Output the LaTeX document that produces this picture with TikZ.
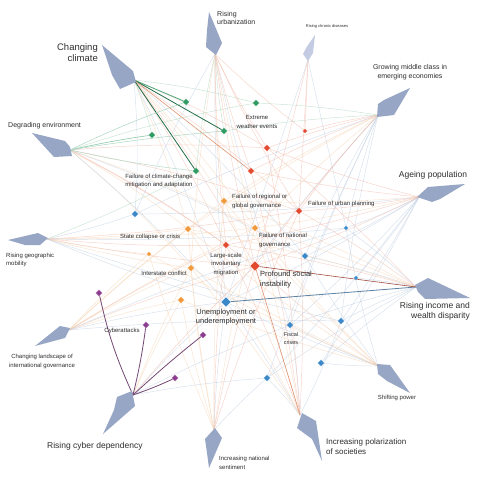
\documentclass[tikz,border=0pt]{standalone}
\usepackage{fontspec}
\setmainfont{Liberation Sans}
\usetikzlibrary{shapes.geometric}
\pgfdeclarelayer{back}
\pgfdeclarelayer{bg}
\pgfsetlayers{back,bg,main}
\definecolor{gC}{HTML}{2F9B62}
\definecolor{rC}{HTML}{E2492F}
\definecolor{oC}{HTML}{F19A3C}
\definecolor{bC}{HTML}{3B88C9}
\definecolor{pC}{HTML}{8C3D8F}
\definecolor{ge}{HTML}{A8D5B8}
\definecolor{re}{HTML}{F2B7A6}
\definecolor{oe}{HTML}{F6D2AE}
\definecolor{be}{HTML}{BDCDE2}
\definecolor{pe}{HTML}{D2B4D4}
\definecolor{trendC}{HTML}{98A6C6}
\definecolor{trendL}{HTML}{C3CCE2}
\definecolor{labC}{HTML}{2E2E2E}
\tikzset{
  rk/.style={diamond, inner sep=0pt, minimum size=7pt, draw=white, line width=0.2pt},
  rkS/.style={rk, minimum size=5pt},
  rkL/.style={rk, minimum size=10pt},
  trendshape/.style={fill=trendC},
  lab/.style={text=labC, inner sep=0pt},
  fe/.style={line width=0.45pt, opacity=0.6},
  se/.style={line width=0.8pt},
}
\begin{document}
\begin{tikzpicture}[x=1pt,y=-1pt]
\useasboundingbox (0,0) rectangle (480,492);
\begin{pgfonlayer}{back}
\fill[white] (0,0) rectangle (480,492);
\end{pgfonlayer}

% ---- trend shapes ----
\fill[trendshape] (102,45) -- (133,71) -- (136,82) -- (120,89) -- (112,75) -- cycle;
\fill[trendshape] (32,133) -- (65,141) -- (70,147) -- (72,156) -- (54,157) -- cycle;
\fill[trendshape] (209,12) -- (222,43) -- (216,55) -- (206,47) -- (207,30) -- cycle;
\fill[trendL] (315,35) -- (313,53) -- (308,61) -- (303,54) -- (306,48) -- cycle;
\fill[trendshape] (410,88) -- (384,100) -- (378,104) -- (377,117) -- (394,115) -- cycle;
\fill[trendshape] (465,184) -- (428,187) -- (417,197) -- (432,202) -- (440,199) -- cycle;
\fill[trendshape] (415,285) -- (428,278) -- (470,298) -- (425,299) -- (418,292) -- cycle;
\fill[trendshape] (377,364) -- (390,365) -- (410,393) -- (387,381) -- (378,374) -- cycle;
\fill[trendshape] (302,413) -- (316,421) -- (322,461) -- (312,439) -- (297,428) -- cycle;
\fill[trendshape] (215,428) -- (222,438) -- (209,468) -- (207,453) -- (205,439) -- cycle;
\fill[trendshape] (132,391) -- (135,406) -- (103,434) -- (114,410) -- (117,397) -- cycle;
\fill[trendshape] (60,326) -- (70,328) -- (65,338) -- (35,346) -- (50,334) -- cycle;
\fill[trendshape] (8,240) -- (38,233) -- (48,238) -- (40,245) -- (25,245) -- cycle;

% ---- trend anchors ----
\coordinate (CC) at (134,80);
\coordinate (DE) at (70,150);
\coordinate (RU) at (215,54);
\coordinate (RCD) at (308,60);
\coordinate (GM) at (378,115);
\coordinate (AP) at (419,197);
\coordinate (RI) at (416,287);
\coordinate (SP) at (378,366);
\coordinate (IP) at (300,415);
\coordinate (IN) at (214,430);
\coordinate (CD) at (133,395);
\coordinate (CL) at (69,330);
\coordinate (GMo) at (47,239);

% ---- risks ----
\node[rk, fill=gC] (G1) at (186,102) {};
\node[rk, fill=gC] (G2) at (152,135) {};
\node[rk, fill=gC] (G3) at (224,131) {};
\node[rk, fill=gC] (G4) at (196,171) {};
\node[rk, fill=gC] (G5) at (256,103) {};
\node[rkS, fill=rC] (R1) at (305,131) {};
\node[rk, fill=rC] (R2) at (267,148) {};
\node[rk, fill=rC] (R3) at (251,171) {};
\node[rk, fill=rC] (R4) at (299,211) {};
\node[rk, fill=rC] (R5) at (226,245) {};
\node[rkL, fill=rC] (R6) at (255,266) {};
\node[rk, fill=oC] (O1) at (224,201) {};
\node[rk, fill=oC] (O2) at (255,228) {};
\node[rk, fill=oC] (O3) at (188,229) {};
\node[rkS, fill=oC] (O4) at (149,254) {};
\node[rk, fill=oC] (O5) at (191,268) {};
\node[rk, fill=oC] (O6) at (181,300) {};
\node[rk, fill=bC] (B1) at (135,214) {};
\node[rkS, fill=bC] (B2) at (346,228) {};
\node[rk, fill=bC] (B4) at (305,256) {};
\node[rkS, fill=bC] (B5) at (356,278) {};
\node[rkL, fill=bC] (B6) at (226,302) {};
\node[rk, fill=bC] (B7) at (290,325) {};
\node[rk, fill=bC] (B8) at (341,321) {};
\node[rk, fill=bC] (B10) at (321,363) {};
\node[rk, fill=bC] (B11) at (267,378) {};
\node[rk, fill=pC] (P1) at (99,293) {};
\node[rk, fill=pC] (P2) at (146,325) {};
\node[rk, fill=pC] (P3) at (203,335) {};
\node[rk, fill=pC] (P4) at (175,378) {};

% ---- connectors ----
\begin{pgfonlayer}{bg}
\foreach \t/\c in {G2/ge,G5/ge,R2/re,R5/re,O1/oe,O3/oe,R6/re,B1/be,R4/re,B6/be,O2/oe,B4/be}
  \draw[fe,\c] (CC) to[bend left=4] (\t.center);
\foreach \t/\c in {R5/re,R6/re,O3/oe,O5/oe,R2/re,B6/be,O2/oe,G5/ge,R4/re,B4/be}
  \draw[fe,\c] (DE) to[bend left=4] (\t.center);
\foreach \t/\c in {R4/re,R2/re,R1/re,G3/ge,B1/be,R6/re,R5/re,B7/be,O2/oe,R3/re,O1/oe,G4/ge,B6/be,O5/oe}
  \draw[fe,\c] (RU) to[bend right=3] (\t.center);
\foreach \t/\c in {R1/re,R4/re,R6/re,B2/be,B6/be}
  \draw[fe,\c] (RCD) to (\t.center);
\foreach \t/\c in {G5/ge,R1/re,R2/re,R3/re,R4/re,B2/be,B4/be,B6/be,B7/be,O1/oe,R6/re,B11/be,G3/ge,B1/be,O3/oe,O2/oe,B8/be}
  \draw[fe,\c] (GM) to[bend right=3] (\t.center);
\foreach \t/\c in {B2/be,B4/be,B5/be,B7/be,B8/be,B6/be,R4/re,R6/re,R2/re,B11/be,B10/be,R3/re,O2/oe,B1/be,O1/oe,R5/re}
  \draw[fe,\c] (AP) to[bend left=3] (\t.center);
\foreach \t/\c in {B5/be,B4/be,B7/be,B8/be,B10/be,R5/re,O2/oe,R4/re,B2/be,O1/oe,B11/be,O3/oe,R2/re}
  \draw[fe,\c] (RI) to[bend right=3] (\t.center);
\foreach \t/\c in {O1/oe,O2/oe,O5/oe,O3/oe,B7/be,B10/be,R6/re,B6/be,O6/oe,B4/be,B2/be,O4/oe}
  \draw[fe,\c] (SP) to[bend left=3] (\t.center);
\foreach \t/\c in {R5/re,O2/oe,O1/oe,B6/be,B7/be,B11/be,R4/re,O3/oe,R3/re,O5/oe,B8/be,R2/re}
  \draw[fe,\c] (IP) to[bend right=3] (\t.center);
\foreach \t/\c in {O5/oe,O6/oe,O3/oe,O2/oe,O1/oe,R5/re,R6/re,B6/be,B11/be,O4/oe,R4/re}
  \draw[fe,\c] (IN) to[bend left=3] (\t.center);
\foreach \t/\c in {B6/be,B7/be,O6/oe,R6/re,B11/be,O5/oe}
  \draw[fe,\c] (CD) to[bend left=3] (\t.center);
\foreach \t/\c in {O1/oe,O2/oe,O3/oe,O5/oe,O6/oe,O4/oe,R5/re,B6/be,R6/re,B2/be,B8/be}
  \draw[fe,\c] (CL) to[bend left=3] (\t.center);
\foreach \t/\c in {R5/re,R6/re,O3/oe,O4/oe,O5/oe,B6/be,R4/re,G4/ge,B1/be,O2/oe,B8/be,B2/be}
  \draw[fe,\c] (GMo) to[bend right=3] (\t.center);
% highlighted
\draw[se, gC!85] (CC) -- (G1.center);
\draw[se, gC!70!black] (CC) -- (G3.center);
\draw[se, gC!70!black] (CC) -- (G4.center);
\draw[line width=0.6pt, rC!45!brown!70] (CC) -- (R3.center);
\draw[line width=0.6pt, gC!55] (DE) to[bend left=2] (G2.center);
\draw[line width=0.5pt, gC!40] (DE) to[bend left=3] (G1.center);
\draw[line width=0.5pt, gC!40] (DE) to[bend left=2] (G3.center);
\draw[line width=0.5pt, gC!35] (DE) to[bend right=3] (G4.center);
\draw[se, pC!65!black!85] (CD) to[bend left=6] (P1.center);
\draw[se, pC!65!black!85] (CD) to[bend right=3] (P2.center);
\draw[se, pC!65!black!85] (CD) to[bend left=2] (P3.center);
\draw[se, pC!65!black!85] (CD) to[bend right=3] (P4.center);
\draw[se, bC!65!black!75] (RI) -- (B6.center);
\draw[line width=0.6pt, rC!65!black!85] (RI) -- (R6.center);
\draw[line width=0.6pt, rC!50!brown!70] (IP) -- (R6.center);
\end{pgfonlayer}

% ---- labels ----
\node[lab, font=\fontsize{9.5}{11}\selectfont, align=right, anchor=north east] at (98,43) {Changing\\climate};
\node[lab, font=\fontsize{7}{8.5}\selectfont, anchor=west] at (8,126) {Degrading environment};
\node[lab, font=\fontsize{7}{8.5}\selectfont, align=left, anchor=north west] at (217,11) {Rising\\urbanization};
\node[lab, font=\fontsize{4}{5}\selectfont] at (327,26) {Rising chronic diseases};
\node[lab, font=\fontsize{7}{8.8}\selectfont, align=center] at (410,72) {Growing middle class in\\emerging economies};
\node[lab, font=\fontsize{8.5}{10}\selectfont] at (433,175) {Ageing population};
\node[lab, font=\fontsize{8.5}{10.5}\selectfont, align=right, anchor=north east] at (470,302) {Rising income and\\wealth disparity};
\node[lab, font=\fontsize{6}{7}\selectfont] at (397,398) {Shifting power};
\node[lab, font=\fontsize{8}{10}\selectfont, align=left, anchor=north west] at (326,438) {Increasing polarization\\of societies};
\node[lab, font=\fontsize{6}{8.5}\selectfont, align=left, anchor=north west] at (219,456) {Increasing national\\sentiment};
\node[lab, font=\fontsize{8.5}{10}\selectfont, anchor=west] at (47,446) {Rising cyber dependency};
\node[lab, font=\fontsize{6}{9}\selectfont, align=center] at (42,361) {Changing landscape of\\international governance};
\node[lab, font=\fontsize{6}{8}\selectfont, align=left, anchor=north west] at (6,253) {Rising geographic\\mobility};

\node[lab, font=\fontsize{6}{9}\selectfont, align=center] at (257,122) {Extreme\\weather events};
\node[lab, font=\fontsize{6}{8.5}\selectfont, align=center] at (159,181) {Failure of climate-change\\mitigation and adaptation};
\node[lab, font=\fontsize{6}{9}\selectfont, align=left, anchor=west] at (232,201) {Failure of regional or\\global governance};
\node[lab, font=\fontsize{6}{8}\selectfont, anchor=west] at (308,204) {Failure of urban planning};
\node[lab, font=\fontsize{6}{9}\selectfont, align=left, anchor=west] at (259,240) {Failure of national\\governance};
\node[lab, font=\fontsize{6}{8}\selectfont, anchor=west] at (120,237) {State collapse or crisis};
\node[lab, font=\fontsize{6}{8.5}\selectfont, align=center] at (226,264) {Large-scale\\involuntary\\migration};
\node[lab, font=\fontsize{6}{8}\selectfont, anchor=east] at (187,273) {Interstate conflict};
\node[lab, font=\fontsize{7.5}{10}\selectfont, align=left, anchor=west] at (260,280) {Profound social\\instability};
\node[lab, font=\fontsize{7.5}{9.5}\selectfont, align=center] at (226,317) {Unemployment or\\underemployment};
\node[lab, font=\fontsize{5.5}{8}\selectfont, align=center] at (291,339) {Fiscal\\crises};
\node[lab, font=\fontsize{6}{8}\selectfont] at (122,331) {Cyberattacks};
\end{tikzpicture}
\end{document}
